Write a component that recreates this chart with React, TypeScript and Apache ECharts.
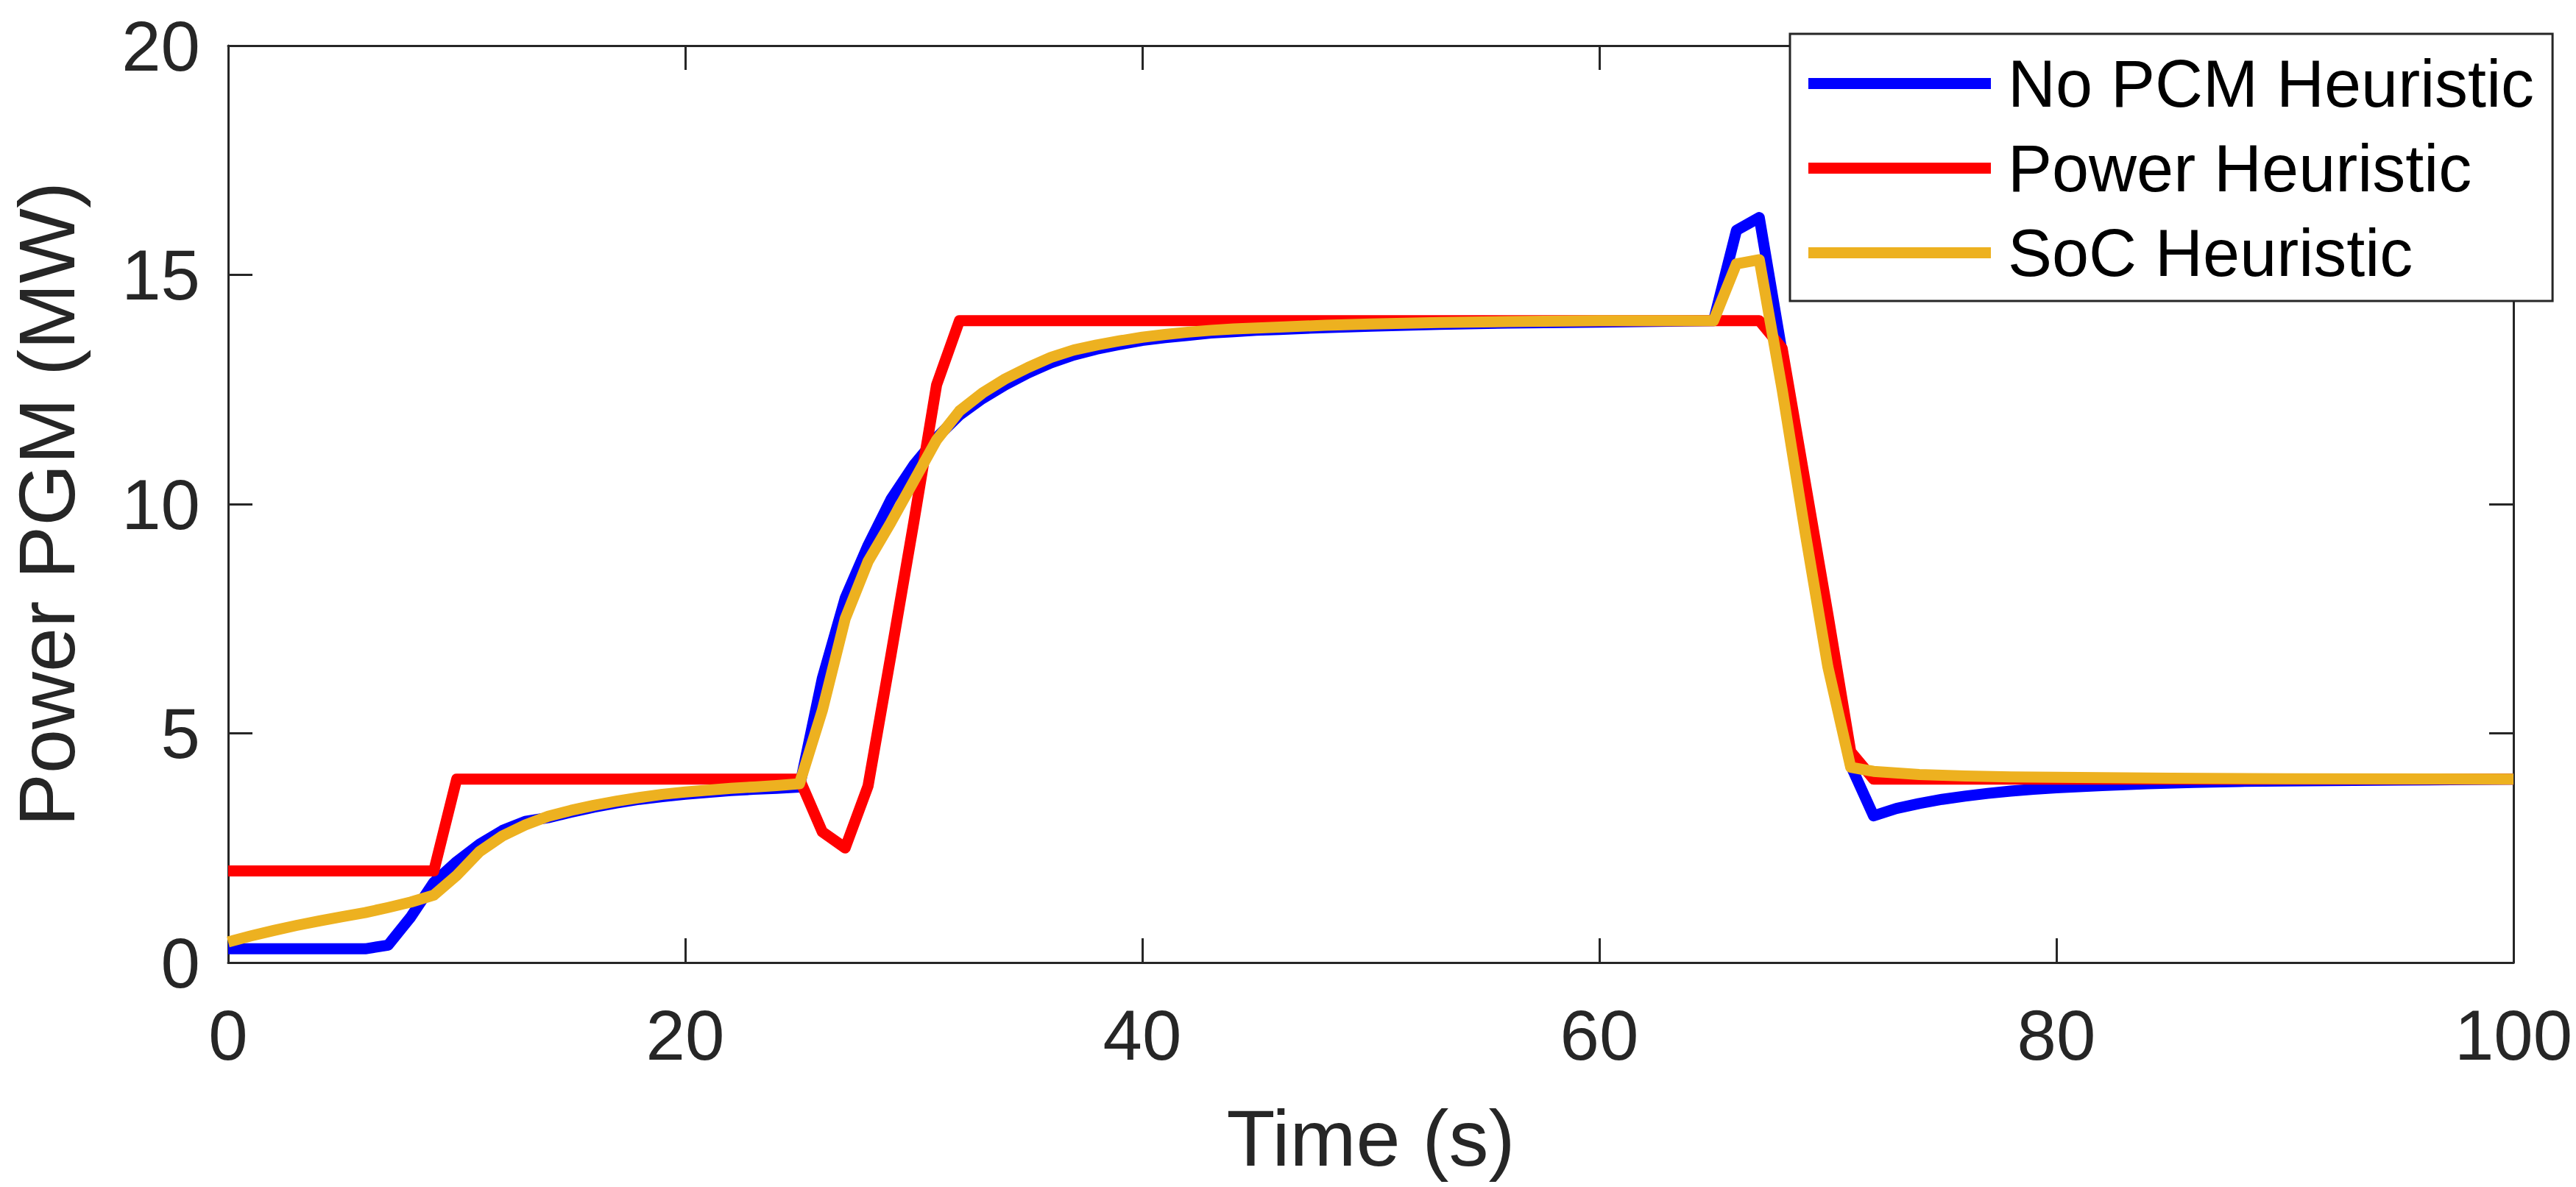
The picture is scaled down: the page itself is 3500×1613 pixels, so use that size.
import React, { useEffect, useRef } from "react";
import * as echarts from "echarts";

const FONT = "'Liberation Sans', Arial, Helvetica, sans-serif";
const AXIS_COLOR = "#262626";

const seriesNames = ["No PCM Heuristic", "Power Heuristic", "SoC Heuristic"];
const seriesColors = ["#0000FF", "#FF0000", "#EDB120"];

const xTitle = "Time (s)";
const yTitle = "Power PGM (MW)";
const xMin = 0, xMax = 100, xStep = 20;
const yMin = 0, yMax = 20, yStep = 5;

// [time (s), power (MW)]
const noPcmData: number[][] = [
  [0, 0.3], [6, 0.3], [7, 0.38], [8, 1.0], [9, 1.75], [10, 2.2], [11, 2.58], [12, 2.88], [13, 3.08],
  [14, 3.16], [15, 3.28], [16, 3.39], [17, 3.48], [18, 3.56], [19, 3.62], [20, 3.67], [21, 3.71],
  [22, 3.75], [23, 3.78], [24, 3.8], [25, 3.83], [26, 6.2], [27, 7.95], [28, 9.1], [29, 10.1],
  [30, 10.85], [31, 11.45], [32, 11.94], [33, 12.3], [34, 12.6], [35, 12.86], [36, 13.08], [37, 13.25],
  [38, 13.38], [39, 13.48], [40, 13.57], [41, 13.63], [42, 13.68], [43, 13.73], [44, 13.76], [45, 13.79],
  [46, 13.81], [48, 13.85], [50, 13.88], [53, 13.92], [56, 13.95], [60, 13.97], [65, 14.0], [66, 15.97],
  [67, 16.25], [68, 13.3], [69, 10.2], [70, 7.1], [71, 4.3], [72, 3.2], [73, 3.36], [74, 3.47],
  [75, 3.56], [76, 3.63], [77, 3.69], [78, 3.74], [79, 3.78], [80, 3.81], [82, 3.86], [84, 3.9],
  [86, 3.93], [88, 3.95], [90, 3.96], [95, 3.98], [100, 4.0],
];

const powerData: number[][] = [
  [0, 2], [9, 2], [10, 4], [25, 4], [26, 2.85], [27, 2.5], [28, 3.85], [29, 6.7], [30, 9.6],
  [31, 12.6], [32, 14], [67, 14], [68, 13.4], [69, 10.5], [70, 7.6], [71, 4.6], [72, 4], [100, 4],
];

const socData: number[][] = [
  [0, 0.45], [1, 0.58], [2, 0.7], [3, 0.81], [4, 0.91], [5, 1.0], [6, 1.09], [7, 1.2], [8, 1.32],
  [9, 1.47], [10, 1.9], [11, 2.42], [12, 2.76], [13, 3.0], [14, 3.19], [15, 3.32], [16, 3.43],
  [17, 3.52], [18, 3.6], [19, 3.67], [20, 3.72], [21, 3.76], [22, 3.8], [23, 3.83], [24, 3.86],
  [25, 3.9], [26, 5.5], [27, 7.5], [28, 8.75], [29, 9.6], [30, 10.5], [31, 11.4], [32, 12.03],
  [33, 12.42], [34, 12.73], [35, 12.98], [36, 13.2], [37, 13.36], [38, 13.47], [39, 13.56],
  [40, 13.64], [41, 13.7], [42, 13.75], [43, 13.79], [44, 13.82], [46, 13.86], [48, 13.9],
  [50, 13.93], [53, 13.96], [56, 13.98], [60, 14.0], [65, 14.0], [66, 15.24], [67, 15.33],
  [68, 12.5], [69, 9.4], [70, 6.45], [71, 4.26], [72, 4.17], [74, 4.1], [76, 4.07], [78, 4.05],
  [80, 4.04], [85, 4.02], [90, 4.01], [100, 4.0],
];

const seriesData = [noPcmData, powerData, socData];

const lineCommon = { show: true, onZero: false, lineStyle: { color: AXIS_COLOR, width: 3 } };
const tickCommon = { show: true, inside: true, length: 33, lineStyle: { color: AXIS_COLOR, width: 3 } };

function buildOption(): any {
  return {
    animation: false,
    backgroundColor: "#ffffff",
    grid: { left: 310, right: 85, top: 62, bottom: 305, containLabel: false },
    legend: {
      orient: "vertical",
      left: 2432,
      top: 46,
      padding: [10, 25, 8, 25],
      itemGap: 0,
      itemWidth: 248,
      itemHeight: 15,
      icon: "rect",
      backgroundColor: "#ffffff",
      borderColor: AXIS_COLOR,
      borderWidth: 3,
      borderRadius: 0,
      data: seriesNames,
      textStyle: {
        fontSize: 90,
        fontFamily: FONT,
        color: "#000000",
        lineHeight: 115,
        padding: [0, 0, 0, 18],
      },
    },
    xAxis: [
      {
        type: "value", min: xMin, max: xMax, interval: xStep, position: "bottom",
        axisLine: lineCommon, axisTick: tickCommon, splitLine: { show: false },
        axisLabel: { margin: 50, fontSize: 96, color: AXIS_COLOR, fontFamily: FONT },
        name: xTitle, nameLocation: "middle", nameGap: 184,
        nameTextStyle: { fontSize: 108, color: AXIS_COLOR, fontFamily: FONT },
      },
      {
        type: "value", min: xMin, max: xMax, interval: xStep, position: "top",
        axisLine: lineCommon, axisTick: tickCommon, splitLine: { show: false },
        axisLabel: { show: false },
      },
    ],
    yAxis: [
      {
        type: "value", min: yMin, max: yMax, interval: yStep, position: "left",
        axisLine: lineCommon, axisTick: tickCommon, splitLine: { show: false },
        axisLabel: { margin: 38, fontSize: 96, color: AXIS_COLOR, fontFamily: FONT },
        name: yTitle, nameLocation: "middle", nameGap: 193,
        nameTextStyle: { fontSize: 108, color: AXIS_COLOR, fontFamily: FONT },
      },
      {
        type: "value", min: yMin, max: yMax, interval: yStep, position: "right",
        axisLine: lineCommon, axisTick: tickCommon, splitLine: { show: false },
        axisLabel: { show: false },
      },
    ],
    series: seriesNames.map((name, i) => ({
      name,
      type: "line",
      xAxisIndex: 0,
      yAxisIndex: 0,
      data: seriesData[i],
      showSymbol: false,
      symbol: "none",
      smooth: false,
      z: 2 + i,
      itemStyle: { color: seriesColors[i] },
      lineStyle: { color: seriesColors[i], width: 15, join: "round", cap: "butt" },
    })),
  };
}

export default function App() {
  const ref = useRef<HTMLDivElement>(null);
  useEffect(() => {
    if (!ref.current) return;
    const chart = echarts.init(ref.current, null, { renderer: "svg" });
    chart.setOption(buildOption());
    return () => chart.dispose();
  }, []);
  return (
    <div
      ref={ref}
      style={{ position: "fixed", left: 0, top: 0, width: 3500, height: 1613, background: "#ffffff" }}
    />
  );
}
